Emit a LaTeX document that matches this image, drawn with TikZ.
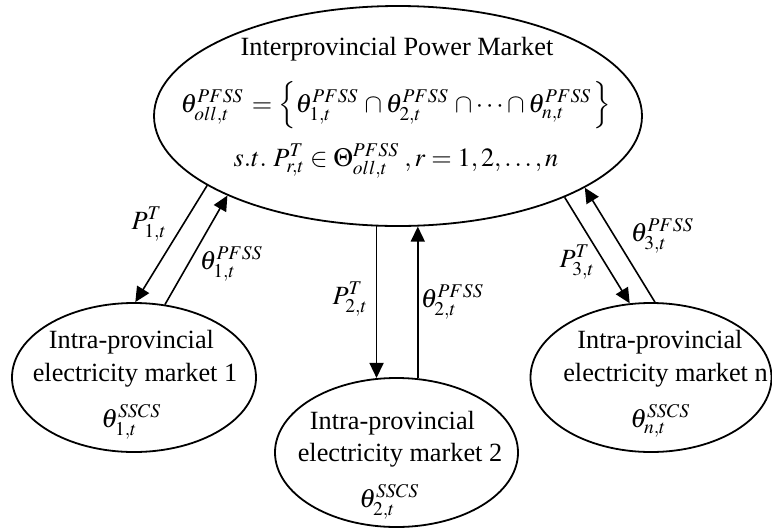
\documentclass[tikz,border=0pt]{standalone}
\usepackage{mathptmx}
\usepackage{fontspec}
\setmainfont{Liberation Serif}
\usetikzlibrary{shapes.geometric,arrows.meta}
\begin{document}
\begin{tikzpicture}[x=1pt,y=-1pt,
  mkt/.style={draw, ellipse, line width=1.8pt, inner sep=0pt},
  txt/.style={anchor=base, inner sep=0pt, font=\fontsize{26.3}{32}\selectfont},
  lbl/.style={inner sep=0pt, font=\fontsize{26.3}{32}\selectfont},
  flow/.style={line width=1.6pt, -{Triangle[length=15pt,width=14pt]}}]
\useasboundingbox (0,0) rectangle (772,528);

% ellipses
\node[mkt, minimum width=488pt, minimum height=220pt] (main) at (398,116) {};
\node[mkt, minimum width=244pt, minimum height=149pt] (m1) at (134,377.5) {};
\node[mkt, minimum width=243pt, minimum height=149pt] (m2) at (396.5,452.5) {};
\node[mkt, minimum width=241pt, minimum height=149pt] (mn) at (651,377.5) {};

% main texts
\node[txt] (title) at (397,55) {Interprovincial Power Market};
\node[txt] (eq) at (396,112) {$\theta^{PFSS}_{oll,t}\, =\left\{\theta^{PFSS}_{1,t}\,\cap\theta^{PFSS}_{2,t}\,\cap\cdots\cap\theta^{PFSS}_{n,t}\,\right\}$};
\node[txt] (st) at (396,166) {$s.t.\ P^{T}_{r,t}\in\Theta^{PFSS}_{oll,t}\;,r=1,2,\ldots,n$};

% sub-market texts
\node[txt] (m1a) at (131.5,348) {Intra-provincial};
\node[txt] (m1b) at (135,381) {electricity market 1};
\node[txt] (m1c) at (131,427) {$\theta^{SSCS}_{1,t}$};

\node[txt] (m2a) at (392.5,429) {Intra-provincial};
\node[txt] (m2b) at (400,461) {electricity market 2};
\node[txt] (m2c) at (389,507) {$\theta^{SSCS}_{2,t}$};

\node[txt] (mna) at (660,348) {Intra-provincial};
\node[txt] (mnb) at (665.5,381) {electricity market n};
\node[txt] (mnc) at (660,427) {$\theta^{SSCS}_{n,t}$};

% connectors
\draw[flow] (main.200.2) -- (m1.89.2);
\draw[flow] (m1.67.4) -- (main.205.3);
\draw[flow] (main.259.2) -- (main.259.2 |- m2.104.7);
\draw[flow] (m2.74.4) -- (m2.74.4 |- main.279.8);
\draw[flow] (main.334.1) -- (mn.106.1);
\draw[flow] (mn.87.3) -- (main.339.4);

% connector labels
\node[lbl] (l1) at (149,224) {$P^{T}_{1,t}$};
\node[lbl] (l2) at (231,264) {$\theta^{PFSS}_{1,t}$};
\node[lbl] (l3) at (350,299) {$P^{T}_{2,t}$};
\node[lbl] (l4) at (452,302) {$\theta^{PFSS}_{2,t}$};
\node[lbl] (l5) at (577,262) {$P^{T}_{3,t}$};
\node[lbl] (l6) at (662,236) {$\theta^{PFSS}_{3,t}$};
\end{tikzpicture}
\end{document}
